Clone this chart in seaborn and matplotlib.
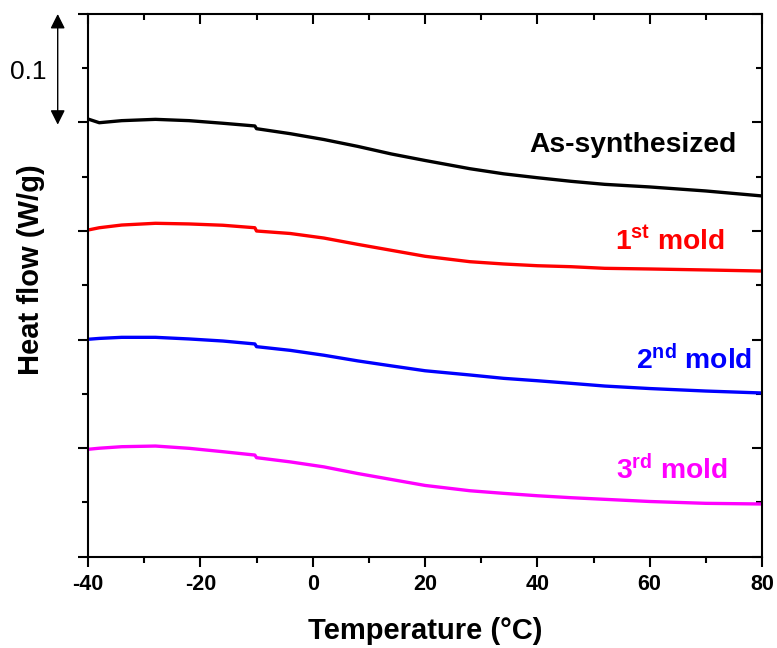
import matplotlib
matplotlib.use("Agg")
import matplotlib.pyplot as plt
import seaborn as sns
from matplotlib.ticker import MultipleLocator, NullFormatter

# temperatures (°C) shared by all curves; the small step near -10 °C is in the data
temps = [-40, -38, -34, -28, -22, -16, -10.3, -10, -4, 2, 8, 14, 20, 28, 34, 40, 46, 52, 60, 70, 80]

as_synth = [0.4032, 0.3998, 0.4017, 0.4029, 0.4017, 0.3993, 0.3968, 0.3943, 0.3897, 0.3843, 0.3780,
            0.3710, 0.3650, 0.3574, 0.3527, 0.3491, 0.3458, 0.3430, 0.3406, 0.3369, 0.3323]
mold_1 = [0.3009, 0.3030, 0.3055, 0.3071, 0.3065, 0.3053, 0.3030, 0.3000, 0.2977, 0.2935, 0.2877,
          0.2822, 0.2767, 0.2717, 0.2696, 0.2680, 0.2671, 0.2656, 0.2650, 0.2641, 0.2631]
mold_2 = [0.2002, 0.2010, 0.2020, 0.2020, 0.2005, 0.1986, 0.1959, 0.1934, 0.1900, 0.1855, 0.1803,
          0.1757, 0.1712, 0.1673, 0.1642, 0.1620, 0.1596, 0.1571, 0.1548, 0.1525, 0.1507]
mold_3 = [0.0988, 0.0998, 0.1012, 0.1018, 0.0997, 0.0966, 0.0935, 0.0911, 0.0872, 0.0826, 0.0765,
          0.0710, 0.0655, 0.0606, 0.0582, 0.0560, 0.0542, 0.0527, 0.0507, 0.0490, 0.0484]

labels = ["As-synthesized", "1$^{st}$ mold", "2$^{nd}$ mold", "3$^{rd}$ mold"]
colors = ["black", "#ff0000", "#0000ff", "#ff00ff"]
label_x = [75.5, 73.4, 78.2, 73.9]
label_y = [0.379, 0.290, 0.181, 0.080]

sns.set_style("ticks")
plt.rcParams["font.family"] = ["Liberation Sans", "DejaVu Sans"]
plt.rcParams["mathtext.fontset"] = "custom"
plt.rcParams["mathtext.rm"] = "Liberation Sans:bold"
plt.rcParams["mathtext.it"] = "Liberation Sans:bold"
plt.rcParams["mathtext.bf"] = "Liberation Sans:bold"
plt.rcParams["axes.unicode_minus"] = False
plt.rcParams["text.color"] = "black"
plt.rcParams["axes.labelcolor"] = "black"
plt.rcParams["xtick.color"] = "black"
plt.rcParams["ytick.color"] = "black"

fig = plt.figure(figsize=(7.77, 6.48), dpi=100)
ax = fig.add_axes([0.1133, 0.1412, 0.8674, 0.8372])

for vals, c in zip([as_synth, mold_1, mold_2, mold_3], colors):
    sns.lineplot(x=temps, y=vals, color=c, lw=2.4, ax=ax, sort=False, estimator=None)

for txt, c, tx, ty in zip(labels, colors, label_x, label_y):
    ax.text(tx, ty, txt, color=c, ha="right", va="center", fontsize=20.3, fontweight="bold")

ax.set_xlim(-40, 80)
ax.set_ylim(0, 0.5)
ax.xaxis.set_major_locator(MultipleLocator(20))
ax.xaxis.set_minor_locator(MultipleLocator(10))
ax.yaxis.set_major_locator(MultipleLocator(0.1))
ax.yaxis.set_minor_locator(MultipleLocator(0.05))
ax.yaxis.set_major_formatter(NullFormatter())

for side in ["left", "right", "top", "bottom"]:
    ax.spines[side].set_linewidth(1.5)
    ax.spines[side].set_color("black")

ax.tick_params(axis="both", which="major", direction="out", length=7.5, width=1.5, color="black")
ax.tick_params(axis="both", which="minor", direction="out", length=4, width=1.5, color="black")
ax.tick_params(top=True, right=True, which="both")
ax.tick_params(axis="x", which="major", labelsize=15.5, pad=5, labelcolor="black")
for t in ax.get_xticklabels():
    t.set_fontweight("bold")

# top/right ticks point inwards, left/bottom outwards
for tick in ax.xaxis.get_major_ticks() + ax.xaxis.get_minor_ticks():
    tick.tick2line.set_marker(matplotlib.lines.TICKDOWN)
for tick in ax.yaxis.get_major_ticks() + ax.yaxis.get_minor_ticks():
    tick.tick2line.set_marker(matplotlib.lines.TICKLEFT)

ax.set_xlabel("Temperature (°C)", fontsize=21, fontweight="bold", labelpad=16)
ax.set_ylabel("Heat flow (W/g)", fontsize=21, fontweight="bold")
ax.yaxis.set_label_coords(-0.064, 0.528)

# 0.1 W/g scale bar
ax.annotate("", xy=(-0.045, 0.5), xytext=(-0.045, 0.398),
            xycoords=("axes fraction", "data"), textcoords=("axes fraction", "data"),
            arrowprops=dict(arrowstyle="<|-|>", color="black", lw=1, mutation_scale=22,
                            shrinkA=0, shrinkB=0), annotation_clip=False)
ax.text(-0.089, 0.4466, "0.1", transform=ax.get_yaxis_transform(), ha="center", va="center",
        fontsize=19)

fig.savefig("out.png", dpi=100)
